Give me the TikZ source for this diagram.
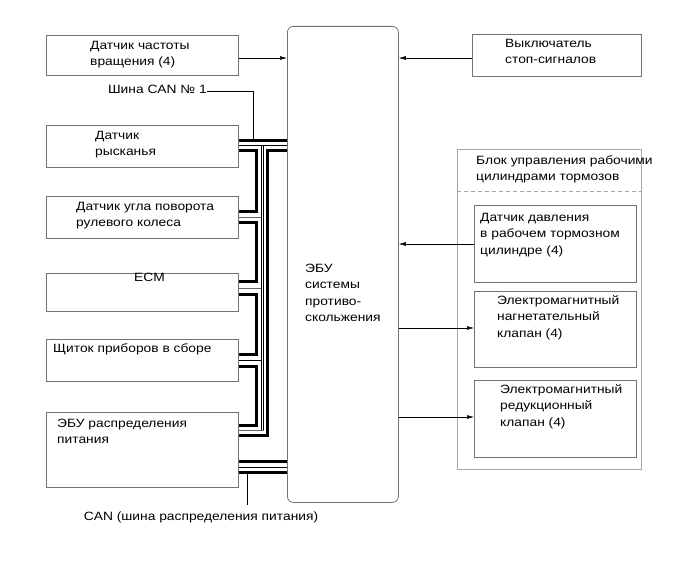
\documentclass[tikz,border=0pt]{standalone}
\usepackage{fontspec}
\setmainfont{Liberation Sans}[FakeStretch=1.15]
\usetikzlibrary{arrows.meta}
\newcommand\myst{\rule{0pt}{11pt}}
\begin{document}
\begin{tikzpicture}[x=1pt,y=-1pt,
  box/.style={draw=black!55, line width=0.8pt, inner sep=0pt, anchor=north west},
  lbox/.style={draw=black!35, line width=1pt, inner sep=0pt, anchor=north west},
  txt/.style={anchor=north west, inner sep=0pt, align=left, font=\fontsize{12}{16.5}\selectfont},
  arr/.style={draw=black, line width=0.5pt, -{Latex[length=7pt,width=3.8pt]}},
  thk/.style={draw=black, line width=3pt},
  thn/.style={draw=black, line width=0.7pt},
  thg/.style={draw=black!60, line width=0.8pt},
]
\useasboundingbox (0,0) rectangle (691,564);

% left boxes
\node[box, minimum width=192pt, minimum height=40pt] (b1) at (46,35) {};
\node[box, minimum width=192pt, minimum height=42pt] (b2) at (46,125) {};
\node[box, minimum width=192pt, minimum height=42pt] (b3) at (46,196) {};
\node[box, minimum width=192pt, minimum height=38pt] (b4) at (46,273) {};
\node[box, minimum width=192pt, minimum height=42pt] (b5) at (46,339) {};
\node[box, minimum width=192pt, minimum height=75pt] (b6) at (46,412) {};

\node[txt] (t1) at (90,38) {\myst Датчик частоты\\вращения (4)};
\node[txt] (t2) at (95,128) {\myst Датчик\\рысканья};
\node[txt] (t3) at (76,199) {\myst Датчик угла поворота\\рулевого колеса};
\node[txt] (t4) at (134,270) {\myst ECM};
\node[txt] (t5) at (53,341) {\myst Щиток приборов в сборе};
\node[txt] (t6) at (57,416) {\myst ЭБУ распределения\\питания};

% ECU
\node[box, rounded corners=6pt, minimum width=111pt, minimum height=476pt] (ecu) at (287,26) {};
\node[txt] (te) at (305,261) {\myst ЭБУ\\системы\\противо-\\скольжения};

% right side
\node[box, minimum width=169pt, minimum height=42pt] (sw) at (472,34) {};
\node[txt] (tsw) at (505,36) {\myst Выключатель\\стоп-сигналов};

\node[lbox, minimum width=184pt, minimum height=320pt] (blk) at (457,149) {};
\draw[draw=black!35, line width=1pt, dash pattern=on 4pt off 3pt] (blk.west |- 0,192) -- (blk.east |- 0,192);
\node[txt] (tblk) at (476,153) {\myst Блок управления рабочими\\цилиндрами тормозов};

\node[box, minimum width=162pt, minimum height=77pt] (r1) at (474,205) {};
\node[box, minimum width=162pt, minimum height=76pt] (r2) at (474,291) {};
\node[box, minimum width=162pt, minimum height=77pt] (r3) at (474,380) {};
\node[txt] (tr1) at (480,210) {\myst Датчик давления\\в рабочем тормозном\\цилиндре (4)};
\node[txt] (tr2) at (497,293) {\myst Электромагнитный\\нагнетательный\\клапан (4)};
\node[txt] (tr3) at (500,382) {\myst Электромагнитный\\редукционный\\клапан (4)};

% arrows
\draw[arr] (b1.east |- 0,58) -- (ecu.west |- 0,58);
\draw[arr] (sw.west |- 0,58) -- (ecu.east |- 0,58);
\draw[arr] (r1.west |- 0,244) -- (ecu.east |- 0,244);
\draw[arr] (ecu.east |- 0,328) -- (r2.west |- 0,328);
\draw[arr] (ecu.east |- 0,417) -- (r3.west |- 0,417);

% CAN No 1 label
\node[txt, anchor=base east] (can1) at (207,94) {Шина CAN № 1};
\draw[thn] (can1.east |- 0,91) -- (253,91) -- (253,139);

% top bus pair
\draw[thk] (b2.east |- 0,140.5) -- (ecu.west |- 0,140.5);
\draw[thn] (b2.east |- 0,145.5) -- (ecu.west |- 0,145.5);

% daisy chain loops
\draw[thk] (b2.east |- 0,151) -- (256.5,151) -- (256.5,212) -- (b3.east |- 0,212);
\draw[thk] (b3.east |- 0,223) -- (256.5,223) -- (256.5,282) -- (b4.east |- 0,282);
\draw[thk] (b4.east |- 0,294) -- (256.5,294) -- (256.5,354) -- (b5.east |- 0,354);
\draw[thk] (b5.east |- 0,366) -- (256.5,366) -- (256.5,425) -- (b6.east |- 0,425);

% thin trunks
\draw[thn] (261,145.5) -- (261,430.5);
\draw[thn] (263.5,145.5) -- (263.5,430.5);
\draw[thg] (b3.east |- 0,217.5) -- (261,217.5);
\draw[thg] (b4.east |- 0,288) -- (261,288);
\draw[thn] (b5.east |- 0,360) -- (261,360);
\draw[thg] (b6.east |- 0,430.5) -- (263.5,430.5);

% thick right trunk
\draw[thk] (ecu.west |- 0,151) -- (267.5,151) -- (267.5,435.5) -- (b6.east |- 0,435.5);

% bottom bus
\draw[thk] (b6.east |- 0,461.5) -- (ecu.west |- 0,461.5);
\draw[thn] (b6.east |- 0,467) -- (ecu.west |- 0,467);
\draw[thk] (b6.east |- 0,472.5) -- (ecu.west |- 0,472.5);
\node[txt, anchor=base] (can2) at (201,520) {CAN (шина распределения питания)};
\draw[thn] (247,474) -- (247,505);
\end{tikzpicture}
\end{document}
